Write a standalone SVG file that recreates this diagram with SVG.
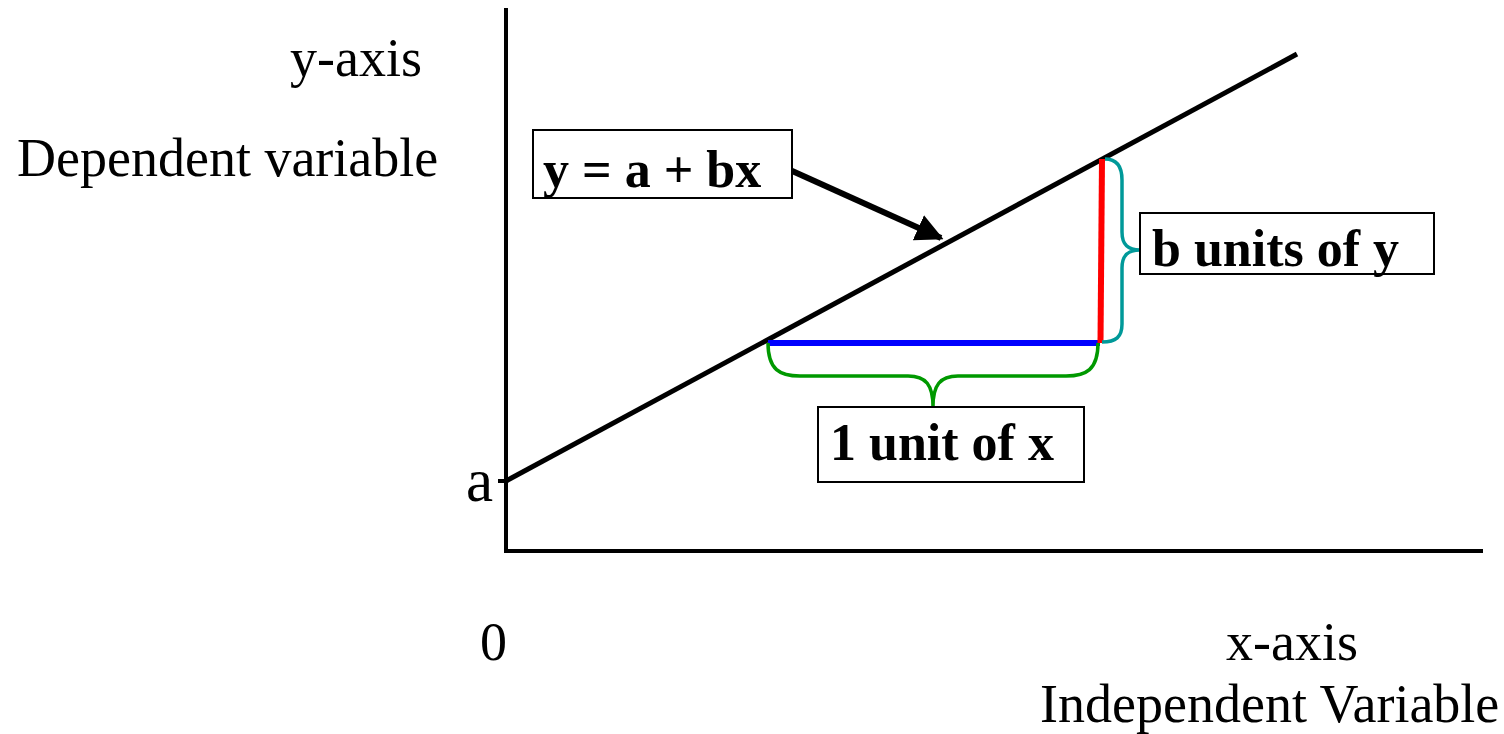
<svg xmlns="http://www.w3.org/2000/svg" width="1504" height="734" viewBox="0 0 1504 734">
<style>
.t{font-family:"Liberation Serif","Times New Roman",serif;font-size:54px;fill:#000}
.b{font-weight:bold;font-size:52px}
.box{fill:#fff;stroke:#000;stroke-width:2}
.ax{stroke:#000;stroke-width:4;fill:none}
</style>
<defs>
<marker id="ah" viewBox="0 0 10 10" refX="9" refY="5" markerWidth="4.6" markerHeight="4.6" orient="auto" markerUnits="strokeWidth">
<path d="M0,0 L10,5 L0,10 z" fill="#000"/>
</marker>
</defs>
<g id="axes">
<line class="ax" x1="506" y1="8" x2="506" y2="552"/>
<line class="ax" x1="504" y1="551" x2="1483" y2="551"/>
<line class="ax" x1="498" y1="481" x2="506" y2="481"/>
</g>
<g id="regression-line">
<line x1="506" y1="481" x2="1297" y2="54" stroke="#000" stroke-width="5"/>
</g>
<g id="labels">
<text class="t" x="290" y="76">y-axis</text>
<text class="t" x="17" y="176">Dependent variable</text>
<text class="t" x="466" y="501" style="font-size:61px">a</text>
<text class="t" x="480" y="660">0</text>
<text class="t" x="1226" y="660">x-axis</text>
<text class="t" x="1040" y="722">Independent Variable</text>
</g>
<g id="segments">
<line x1="768" y1="343" x2="1100" y2="343" stroke="#0000ff" stroke-width="6"/>
<line x1="1102" y1="159" x2="1100.5" y2="343" stroke="#ff0000" stroke-width="6"/>
</g>
<g id="braces" fill="none" stroke-width="3.5">
<path d="M768,343 C768,370 780,376 800,376 L908,376 C926,376 933,385 933,407 C933,385 940,376 958,376 L1066,376 C1086,376 1098,370 1098,343" stroke="#009900"/>
<path d="M1105,159 C1116,159 1122,166 1122,180 L1122,232 C1122,245 1128,250 1140,250 C1128,250 1122,255 1122,268 L1122,324 C1122,337 1116,342 1102,342" stroke="#009999"/>
</g>
<g id="connectors">
<line x1="790" y1="170" x2="941" y2="238" stroke="#000" stroke-width="6" marker-end="url(#ah)"/>
</g>
<g id="box-equation">
<rect class="box" x="533" y="130" width="259" height="68"/>
<text class="t b" x="543" y="187">y = a + bx</text>
</g>
<g id="box-b">
<rect class="box" x="1140" y="213" width="294" height="61"/>
<text class="t b" x="1152" y="266">b units of y</text>
</g>
<g id="box-1">
<rect class="box" x="818" y="407" width="266" height="75"/>
<text class="t b" x="830" y="460">1 unit of x</text>
</g>
</svg>
